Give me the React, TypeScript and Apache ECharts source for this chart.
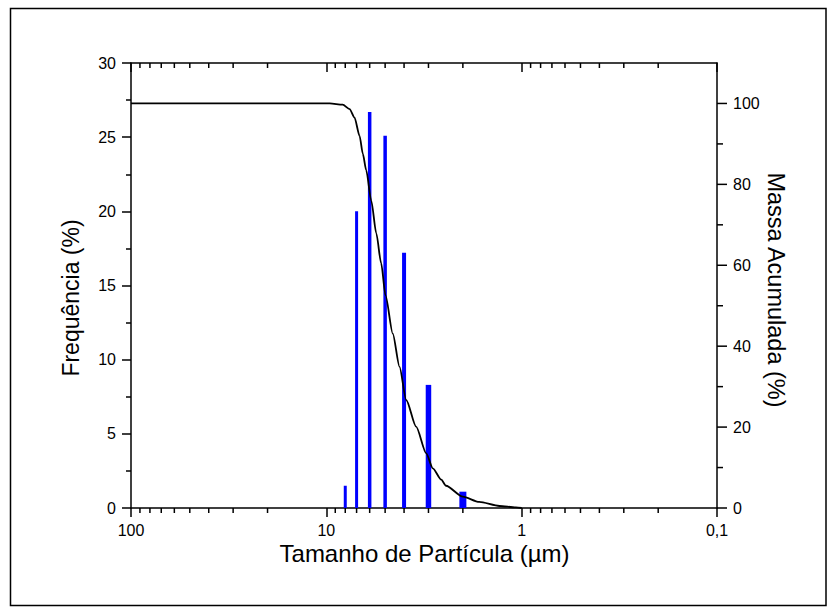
import React, { useEffect, useRef } from "react";
import * as echarts from "echarts";

// Bars: particle size (µm) and frequency (%)
const sizes = [8, 7, 6, 5, 4, 3, 2];
const frequency = [1.5, 20, 26.7, 25.1, 17.2, 8.3, 1.1];
const barPixelWidths = [3, 3, 3.5, 3.5, 4, 5.5, 7];

// Cumulative mass curve
const curveSizes = [100, 9.6, 8.25, 7.6, 7.17, 6.76, 6.5, 6.25, 5.89, 5.55, 5.24, 4.98, 4.57, 4.22, 3.9, 3.47, 3.08, 2.85, 2.58, 2.44, 2.0, 1.65, 1.3, 1.07, 1.0];
const curveMass = [100, 100, 99.7, 98.6, 96.5, 92.0, 87.5, 83.5, 76.0, 67.9, 60.5, 52.6, 43.1, 34.9, 26.7, 20.1, 13.5, 9.8, 7.0, 5.5, 2.8, 1.5, 0.5, 0.15, 0];

// Ticks
const xMinorTicks = [90, 80, 70, 60, 50, 40, 30, 20, 9, 8, 7, 6, 5, 4, 3, 2, 0.9, 0.8, 0.7, 0.6, 0.5, 0.4, 0.3, 0.2];
const rightMajorTicks = [0, 20, 40, 60, 80, 100];
const rightMinorTicks = [10, 30, 50, 70, 90];

const FONT = "'Liberation Sans', Arial, sans-serif";

export default function App() {
  const ref = useRef<HTMLDivElement>(null);

  useEffect(() => {
    if (!ref.current) return;
    const chart = echarts.init(ref.current, undefined, { renderer: "svg" });

    const tickLine = (x1: number, y1: number, x2: number, y2: number) => ({
      type: "line",
      shape: { x1, y1, x2, y2 },
      style: { stroke: "#000", lineWidth: 1.5 },
    });

    const fmtX = (v: number) => {
      const r = Math.round(v * 1000) / 1000;
      return String(r).replace(".", ",");
    };

    const xCommon = {
      type: "log",
      logBase: 10,
      min: 0.1,
      max: 100,
      inverse: true,
      splitLine: { show: false },
      axisLine: { show: true, onZero: false, lineStyle: { color: "#000", width: 1.5 } },
    };

    const option: any = {
      animation: false,
      backgroundColor: "#fff",
      grid: { left: 131, right: 112, top: 63, bottom: 103, containLabel: false },
      xAxis: [
        {
          ...xCommon,
          position: "bottom",
          axisTick: { show: true, inside: false, length: 9, lineStyle: { color: "#000", width: 1.5 } },
          axisLabel: { color: "#000", fontSize: 16, fontFamily: FONT, margin: 14, formatter: fmtX },
        },
        {
          ...xCommon,
          position: "top",
          axisTick: { show: true, inside: true, length: 9, lineStyle: { color: "#000", width: 1.5 } },
          axisLabel: { show: false },
        },
      ],
      yAxis: [
        {
          type: "value",
          min: 0,
          max: 30,
          interval: 5,
          position: "left",
          splitLine: { show: false },
          axisLine: { show: true, onZero: false, lineStyle: { color: "#000", width: 1.5 } },
          axisTick: { show: true, inside: false, length: 9, lineStyle: { color: "#000", width: 1.5 } },
          minorTick: { show: true, splitNumber: 2, length: 5, lineStyle: { color: "#000", width: 1.5 } },
          axisLabel: { color: "#000", fontSize: 16, fontFamily: FONT, margin: 15 },
        },
        {
          type: "value",
          min: 0,
          max: 110,
          interval: 20,
          position: "right",
          splitLine: { show: false },
          axisLine: { show: true, onZero: false, lineStyle: { color: "#000", width: 1.5 } },
          axisTick: { show: false },
          axisLabel: {
            color: "#000",
            fontSize: 16,
            fontFamily: FONT,
            margin: 16,
            formatter: (v: number) => (v > 100 ? "" : String(v)),
          },
        },
      ],
      graphic: [
        {
          type: "rect",
          shape: { x: 10.5, y: 8.5, width: 815.5, height: 597 },
          style: { fill: "none", stroke: "#000", lineWidth: 1.5 },
          silent: true,
        },
        {
          type: "text",
          x: 424.5,
          y: 553,
          style: {
            text: "Tamanho de Partícula (µm)",
            fontSize: 24,
            fontFamily: FONT,
            fill: "#000",
            align: "center",
            verticalAlign: "middle",
          },
        },
        {
          type: "text",
          x: 71,
          y: 298,
          rotation: Math.PI / 2,
          style: {
            text: "Frequência (%)",
            fontSize: 23,
            fontFamily: FONT,
            fill: "#000",
            align: "center",
            verticalAlign: "middle",
          },
        },
        {
          type: "text",
          x: 776,
          y: 290,
          rotation: -Math.PI / 2,
          style: {
            text: "Massa Acumulada (%)",
            fontSize: 23.5,
            fontFamily: FONT,
            fill: "#000",
            align: "center",
            verticalAlign: "middle",
          },
        },
      ],
      series: [
        {
          type: "custom",
          name: "Frequência",
          xAxisIndex: 0,
          yAxisIndex: 0,
          clip: false,
          z: 2,
          encode: { x: 0, y: 1 },
          data: sizes.map((s, i) => [s, frequency[i]]),
          renderItem: (params: any, api: any) => {
            const x = api.value(0);
            const y = api.value(1);
            const base = api.coord([x, 0]);
            const top = api.coord([x, y]);
            const w = barPixelWidths[params.dataIndex];
            return {
              type: "rect",
              shape: { x: base[0] - w / 2, y: top[1], width: w, height: base[1] - top[1] },
              style: { fill: "#0000ff" },
            };
          },
        },
        {
          type: "line",
          name: "Massa Acumulada",
          xAxisIndex: 0,
          yAxisIndex: 1,
          z: 5,
          showSymbol: false,
          symbol: "none",
          smooth: 0.25,
          smoothMonotone: "x",
          lineStyle: { color: "#000", width: 1.8 },
          data: curveSizes.map((s, i) => [s, curveMass[i]]),
        },
        {
          type: "custom",
          name: "xMinor",
          xAxisIndex: 0,
          yAxisIndex: 0,
          clip: false,
          silent: true,
          z: 6,
          encode: { x: 0, y: 1 },
          data: xMinorTicks.map((v) => [v, 0]),
          renderItem: (params: any, api: any) => {
            const v = api.value(0);
            const b = api.coord([v, 0]);
            const t = api.coord([v, 30]);
            return {
              type: "group",
              children: [tickLine(b[0], b[1], b[0], b[1] + 5), tickLine(t[0], t[1], t[0], t[1] + 5)],
            };
          },
        },
        {
          type: "custom",
          name: "rightMajor",
          xAxisIndex: 0,
          yAxisIndex: 1,
          clip: false,
          silent: true,
          z: 6,
          encode: { x: 0, y: 1 },
          data: rightMajorTicks.map((v) => [0.1, v]),
          renderItem: (params: any, api: any) => {
            const p = api.coord([api.value(0), api.value(1)]);
            return tickLine(p[0], p[1], p[0] + 10, p[1]);
          },
        },
        {
          type: "custom",
          name: "rightMinor",
          xAxisIndex: 0,
          yAxisIndex: 1,
          clip: false,
          silent: true,
          z: 6,
          encode: { x: 0, y: 1 },
          data: rightMinorTicks.map((v) => [0.1, v]),
          renderItem: (params: any, api: any) => {
            const p = api.coord([api.value(0), api.value(1)]);
            return tickLine(p[0], p[1], p[0] + 6, p[1]);
          },
        },
      ],
    };

    chart.setOption(option);
    return () => chart.dispose();
  }, []);

  return (
    <div
      ref={ref}
      style={{ position: "absolute", left: 0, top: 0, width: 829, height: 611, background: "#fff" }}
    />
  );
}
